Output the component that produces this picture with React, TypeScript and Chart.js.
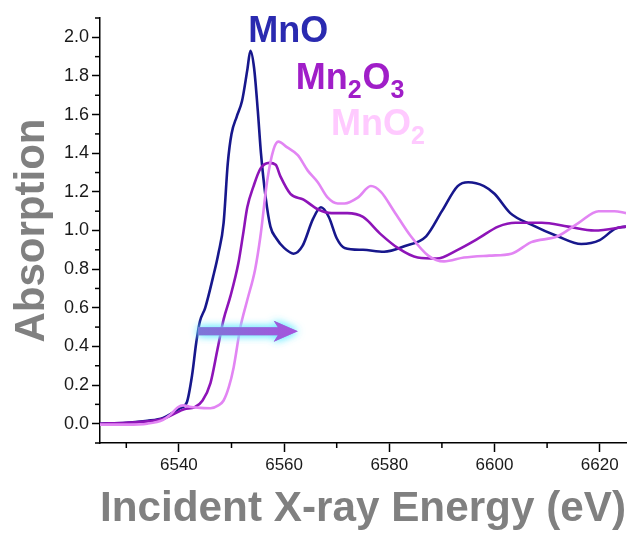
import React, { useEffect, useRef } from "react";
import { Chart, registerables } from "chart.js";

Chart.register(...registerables);

const mnoX = [6525, 6530, 6534, 6537, 6539, 6540.2, 6541.5, 6542.5, 6543.3, 6544, 6545, 6546.5, 6547.5, 6548.5, 6549.3, 6550, 6551, 6552, 6553, 6553.6, 6554.3, 6555, 6555.6, 6556.5, 6557.4, 6558.5, 6560, 6561.8, 6563.5, 6565.5, 6567, 6568.5, 6570, 6571.5, 6575, 6579, 6583, 6587, 6590, 6593, 6595, 6598, 6600, 6603, 6607, 6612, 6616.5, 6620, 6623, 6625];
const mnoY = [0.0, 0.005, 0.015, 0.03, 0.06, 0.08, 0.11, 0.25, 0.42, 0.53, 0.6, 0.76, 0.88, 1.04, 1.35, 1.5, 1.59, 1.67, 1.83, 1.93, 1.84, 1.62, 1.4, 1.17, 1.02, 0.96, 0.91, 0.88, 0.92, 1.06, 1.12, 1.07, 0.96, 0.91, 0.9, 0.89, 0.92, 0.97, 1.1, 1.23, 1.25, 1.23, 1.19, 1.09, 1.03, 0.97, 0.93, 0.95, 1.01, 1.02];

const mn2o3X = [6525, 6530, 6534, 6537, 6539, 6541, 6543, 6544.5, 6546, 6547.3, 6548.5, 6549.8, 6551.3, 6552.2, 6553, 6554.2, 6555.5, 6557.2, 6558.4, 6559.3, 6561.2, 6563.7, 6566.4, 6569, 6572, 6575, 6578.4, 6581.6, 6585.4, 6589, 6593, 6597, 6600.7, 6604, 6609, 6614, 6619, 6625];
const mn2o3Y = [0.0, 0.005, 0.012, 0.025, 0.05, 0.075, 0.085, 0.12, 0.21, 0.38, 0.54, 0.66, 0.83, 0.98, 1.12, 1.23, 1.32, 1.35, 1.34, 1.28, 1.19, 1.16, 1.11, 1.09, 1.09, 1.07, 0.98, 0.91, 0.86, 0.855, 0.9, 0.96, 1.02, 1.04, 1.04, 1.02, 1.0, 1.02];

const mno2X = [6525, 6530, 6534, 6537, 6538.3, 6539.8, 6540.8, 6542, 6543.5, 6546, 6547.5, 6548.5, 6549.5, 6550.4, 6551.7, 6553, 6554.5, 6555.5, 6556.8, 6558, 6558.9, 6560.6, 6562.6, 6564.5, 6566.4, 6568.3, 6570.2, 6571.5, 6574, 6576.5, 6578.4, 6580.9, 6584.1, 6587.4, 6590.4, 6594.2, 6599, 6603.2, 6607, 6612, 6616, 6619.8, 6622.8, 6625];
const mno2Y = [-0.005, -0.005, 0.0, 0.02, 0.045, 0.085, 0.095, 0.088, 0.083, 0.08, 0.095, 0.12, 0.19, 0.29, 0.5, 0.64, 0.8, 0.97, 1.26, 1.42, 1.46, 1.43, 1.39, 1.31, 1.25, 1.17, 1.14, 1.14, 1.17, 1.23, 1.2, 1.1, 0.97, 0.87, 0.84, 0.86, 0.87, 0.88, 0.94, 0.97, 1.04, 1.1, 1.1, 1.09];

const xMajorTicks = [6540, 6560, 6580, 6600, 6620];
const xMinorTicks = [6530, 6550, 6570, 6590, 6610];
const yMajorTicks = [0.0, 0.2, 0.4, 0.6, 0.8, 1.0, 1.2, 1.4, 1.6, 1.8, 2.0];
const yMinorTicks = [-0.1, 0.1, 0.3, 0.5, 0.7, 0.9, 1.1, 1.3, 1.5, 1.7, 1.9, 2.1];

const seriesLabels = [
  { parts: [["Mn", false], ["O", false]], x: 6553.2, y: 1.976, color: "#2a2ab0" },
  { parts: [["Mn", false], ["2", true], ["O", false], ["3", true]], x: 6562.2, y: 1.732, color: "#a01ec8" },
  { parts: [["Mn", false], ["O", false], ["2", true]], x: 6568.9, y: 1.494, color: "#ffcaff" },
];

const arrowFrom = [6543.7, 0.478];
const arrowTo = [6562.6, 0.478];

const FONT = "'Liberation Sans', Arial, sans-serif";

const toPts = (xs: number[], ys: number[]) => xs.map((x, i) => ({ x, y: ys[i] }));

const extrasPlugin = {
  id: "extras",
  afterDraw(chart: any) {
    const { ctx, scales } = chart;
    const xs = scales.x;
    const ys = scales.y;
    ctx.save();
    ctx.strokeStyle = "#000";
    ctx.lineWidth = 1.5;
    const xb = ys.getPixelForValue(ys.min);
    xMinorTicks.forEach((v) => {
      const px = xs.getPixelForValue(v);
      ctx.beginPath();
      ctx.moveTo(px, xb);
      ctx.lineTo(px, xb + 5);
      ctx.stroke();
    });
    const yl = xs.getPixelForValue(xs.min);
    yMinorTicks.forEach((v) => {
      const py = ys.getPixelForValue(v);
      ctx.beginPath();
      ctx.moveTo(yl, py);
      ctx.lineTo(yl - 5, py);
      ctx.stroke();
    });

    // arrow
    const ax0 = xs.getPixelForValue(arrowFrom[0]);
    const ay = ys.getPixelForValue(arrowFrom[1]);
    const ax1 = xs.getPixelForValue(arrowTo[0]);
    const headLen = 24;
    const shaftH = 8;
    const headH = 21;
    const grad = ctx.createLinearGradient(ax0, 0, ax1, 0);
    grad.addColorStop(0, "#7c78d8");
    grad.addColorStop(1, "#a652dc");
    ctx.beginPath();
    ctx.moveTo(ax0, ay - shaftH / 2);
    ctx.lineTo(ax1 - headLen + 4, ay - shaftH / 2);
    ctx.lineTo(ax1 - headLen, ay - headH / 2);
    ctx.lineTo(ax1, ay);
    ctx.lineTo(ax1 - headLen, ay + headH / 2);
    ctx.lineTo(ax1 - headLen + 4, ay + shaftH / 2);
    ctx.lineTo(ax0, ay + shaftH / 2);
    ctx.closePath();
    ctx.shadowColor = "rgba(110,235,255,0.95)";
    ctx.shadowBlur = 8;
    ctx.fillStyle = grad;
    ctx.fill();
    ctx.fill();
    ctx.shadowBlur = 0;
    ctx.shadowColor = "transparent";

    // series labels
    ctx.textBaseline = "alphabetic";
    ctx.textAlign = "left";
    seriesLabels.forEach((lab) => {
      let px = xs.getPixelForValue(lab.x);
      const py = ys.getPixelForValue(lab.y);
      ctx.fillStyle = lab.color;
      lab.parts.forEach(([t, sub]: any) => {
        ctx.font = sub ? `bold 25px ${FONT}` : `bold 36px ${FONT}`;
        ctx.fillText(t, px, sub ? py + 9 : py);
        px += ctx.measureText(t).width + (sub ? 1 : 0);
      });
    });
    ctx.restore();
  },
};

export default function App() {
  const ref = useRef<HTMLCanvasElement | null>(null);
  useEffect(() => {
    if (!ref.current) return;
    const common = {
      showLine: true,
      pointRadius: 0,
      borderWidth: 2.6,
      fill: false,
      tension: 0.4,
      cubicInterpolationMode: "monotone" as const,
    };
    const chart = new Chart(ref.current, {
      type: "scatter",
      data: {
        datasets: [
          { ...common, label: "MnO2", data: toPts(mno2X, mno2Y), borderColor: "#e285f3" },
          { ...common, label: "Mn2O3", data: toPts(mn2o3X, mn2o3Y), borderColor: "#8e14b8" },
          { ...common, label: "MnO", data: toPts(mnoX, mnoY), borderColor: "#17178c" },
        ],
      },
      options: {
        animation: false,
        responsive: false,
        layout: { padding: { top: 18, right: 14, left: 0, bottom: 0 } },
        plugins: { legend: { display: false }, tooltip: { enabled: false } },
        scales: {
          x: {
            type: "linear",
            min: 6525,
            max: 6625,
            afterFit: (s: any) => { s.height = 94; },
            afterBuildTicks: (s: any) => { s.ticks = xMajorTicks.map((v) => ({ value: v })); },
            border: { color: "#000", width: 1.5 },
            grid: { drawOnChartArea: false, tickLength: 9, tickColor: "#000", tickWidth: 1.5 },
            ticks: { color: "#1a1a1a", font: { family: FONT, size: 17 }, padding: 3, maxRotation: 0, callback: (v: any) => String(v) },
            title: {
              display: true,
              text: "Incident X-ray Energy (eV)",
              color: "#808080",
              font: { family: FONT, size: 43, weight: "bold" },
              padding: { top: 0, bottom: 2 },
            },
          },
          y: {
            type: "linear",
            min: -0.1,
            max: 2.1,
            afterFit: (s: any) => { s.width = 100; },
            afterBuildTicks: (s: any) => { s.ticks = yMajorTicks.map((v) => ({ value: v })); },
            border: { color: "#000", width: 1.5 },
            grid: { drawOnChartArea: false, tickLength: 8, tickColor: "#000", tickWidth: 1.5 },
            ticks: { color: "#1a1a1a", font: { family: FONT, size: 18 }, padding: 3, callback: (v: any) => Number(v).toFixed(1) },
            title: {
              display: true,
              text: "Absorption",
              color: "#808080",
              font: { family: FONT, size: 42, weight: "bold" },
              padding: { top: 7, bottom: 0 },
            },
          },
        },
      },
      plugins: [extrasPlugin],
    });
    return () => chart.destroy();
  }, []);
  return (
    <div style={{ position: "fixed", left: 0, top: 0, width: 640, height: 537, background: "#fff" }}>
      <canvas ref={ref} width={640} height={537} style={{ display: "block" }} />
    </div>
  );
}
